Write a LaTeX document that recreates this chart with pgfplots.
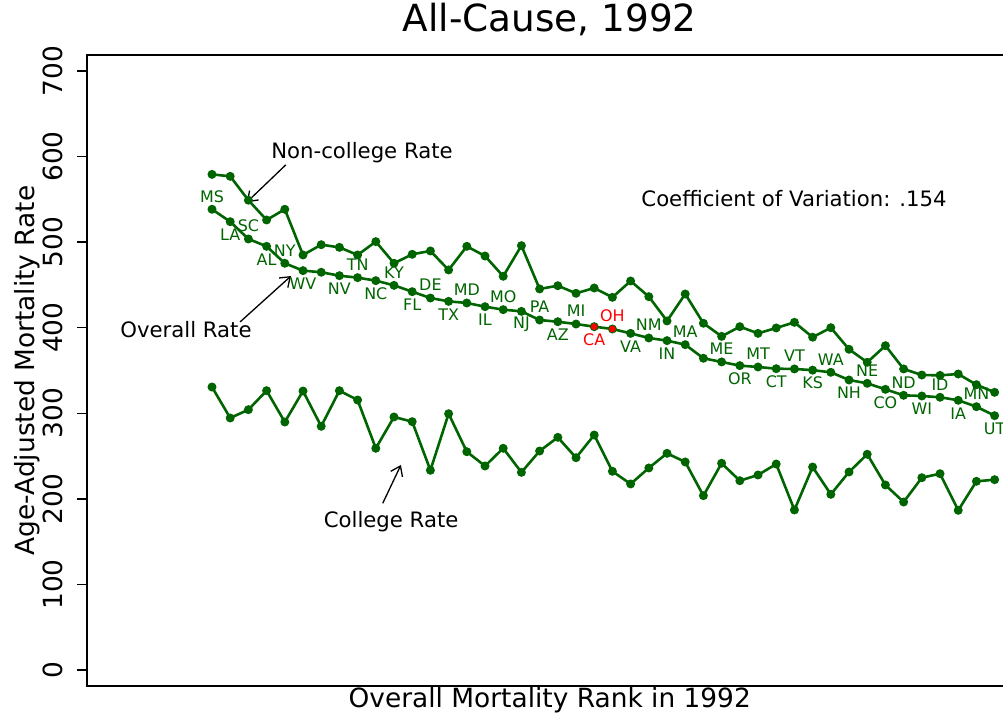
\documentclass[border=0pt]{standalone}
\usepackage{fontspec}
\setmainfont{DejaVu Sans}
\usepackage{pgfplots}
\usepackage{pgfplotstable}
\pgfplotsset{compat=1.18}
\usetikzlibrary{arrows.meta}
\definecolor{dkg}{RGB}{0,100,0}

\pgfplotstableread{
r all non col lab pos
1 538.4 579.2 330.7 MS 1
2 523.9 576.9 294.5 LA -1
3 503.7 549.0 304.2 SC 1
4 495.1 525.9 326.4 AL -1
5 475.3 538.4 289.8 NY 1
6 466.7 485.0 326.0 WV -1
7 464.8 497.0 284.8 {} 0
8 460.8 493.9 326.4 NV -1
9 458.5 485.0 315.5 TN 1
10 455.0 500.6 259.1 NC -1
11 449.5 475.3 295.7 KY 1
12 442.1 485.8 290.2 FL -1
13 434.7 489.7 233.4 DE 1
14 430.8 467.5 299.5 TX -1
15 428.9 495.1 255.1 MD 1
16 424.6 483.8 238.4 IL -1
17 421.1 460.1 259.1 MO 1
18 419.1 495.9 231.0 NJ -1
19 409.0 445.3 255.9 PA 1
20 407.0 449.1 271.9 AZ -1
21 404.3 440.2 248.1 MI 1
22 401.2 446.4 274.6 {} 0
23 398.5 435.5 232.2 {} 0
24 393.4 454.6 217.4 VA -1
25 388.0 436.3 236.1 NM 1
26 384.9 407.9 253.2 IN -1
27 380.2 439.4 243.1 MA 1
28 364.3 405.2 203.7 {} 0
29 360.0 389.9 241.6 ME 1
30 355.7 401.2 221.2 OR -1
31 354.1 393.4 227.9 MT 1
32 352.1 399.7 240.7 CT -1
33 351.8 406.3 187.0 VT 1
34 350.4 388.9 237.2 KS -1
35 347.9 400.0 205.3 WA 1
36 338.9 374.8 231.4 NH -1
37 335.0 359.6 252.1 NE 1
38 328.0 379.0 216.2 CO -1
39 321.0 351.8 196.3 ND 1
40 320.2 344.7 224.7 WI -1
41 318.7 344.3 229.4 ID 1
42 315.2 345.9 186.6 IA -1
43 307.7 333.4 220.5 MN 1
44 297.2 324.5 222.4 UT -1
}\data

\pgfplotstableread{
r all lab pos
22 401.2 CA -1
23 398.5 OH 1
}\reddata

\begin{document}
\begin{tikzpicture}
\begin{axis}[
  at={(87bp,30bp)}, anchor=south west,
  width=920bp, height=631bp, scale only axis,
  xmin=-5.868, xmax=44.68, ymin=-18.7, ymax=718.7,
  axis line style={line width=1.8bp, black},
  xtick=\empty,
  ytick={0,100,...,700},
  ytick pos=left,
  tick align=outside,
  major tick length=10bp,
  tick style={line width=1.5bp, black},
  /pgf/number format/assume math mode=true,
  yticklabel style={rotate=90, anchor=south, inner xsep=0pt, inner ysep=14bp,
    font=\fontsize{26.5}{26.5}\selectfont},
  title={All-Cause, 1992},
  title style={at={(axis description cs:0.503,1.0285)}, anchor=base,
    inner sep=0pt, font=\fontsize{37.5}{37.5}\selectfont},
  xlabel={Overall Mortality Rank in 1992},
  xlabel style={at={(axis description cs:0.503,-0.0344)}, anchor=base,
    inner sep=0pt, font=\fontsize{26.5}{26.5}\selectfont},
  ylabel={Age-Adjusted Mortality Rate},
  ylabel style={at={(axis description cs:-0.0655,0.5)}, anchor=center,
    inner sep=0pt, font=\fontsize{26.5}{26.5}\selectfont},
  clip=false,
]
% lines
\addplot[dkg, line width=2.6bp, mark=*, mark size=3.1bp] table[x=r, y=non] {\data};
\addplot[dkg, line width=2.6bp, mark=*, mark size=3.1bp] table[x=r, y=all] {\data};
\addplot[dkg, line width=2.6bp, mark=*, mark size=3.1bp] table[x=r, y=col] {\data};
\addplot[only marks, red, mark=*, mark size=3.1bp] table[x=r, y=all] {\reddata};
% state labels
\addplot[draw=none, mark=none,
  nodes near coords, point meta=explicit symbolic,
  visualization depends on={\thisrow{pos} \as \lpos},
  every node near coord/.style={anchor=center, yshift=\lpos*13bp, inner sep=0pt,
    text=dkg, font=\fontsize{16}{16}\selectfont}]
  table[x=r, y=all, meta=lab] {\data};
\addplot[draw=none, mark=none,
  nodes near coords, point meta=explicit symbolic,
  visualization depends on={\thisrow{pos} \as \lpos},
  every node near coord/.style={anchor=center, yshift=\lpos*13bp, inner sep=0pt,
    text=red, font=\fontsize{16}{16}\selectfont}]
  table[x=r, y=all, meta=lab] {\reddata};
% annotations
\node[font=\fontsize{21.3}{21.3}\selectfont] at (axis cs:9.24,604.2) {Non-college Rate};
\draw[line width=1.3bp, -{Straight Barb[length=9bp,width=13bp]}] (axis cs:5.05,590.2) -- (axis cs:2.91,546.6);
\node[font=\fontsize{21.3}{21.3}\selectfont] at (axis cs:-0.43,397.3) {Overall Rate};
\draw[line width=1.3bp, -{Straight Barb[length=9bp,width=13bp]}] (axis cs:2.54,406.7) -- (axis cs:5.34,460.4);
\node[font=\fontsize{21.3}{21.3}\selectfont] at (axis cs:10.84,173.0) {College Rate};
\draw[line width=1.3bp, -{Straight Barb[length=9bp,width=13bp]}] (axis cs:10.38,194.8) -- (axis cs:11.38,239.6);
\node[font=\fontsize{21.3}{21.3}\selectfont] at (axis cs:32.98,550.4) {Coefficient of Variation: .154};
\end{axis}
\pgfresetboundingbox
\path[use as bounding box] (0,0) rectangle (1003bp,716bp);
\end{tikzpicture}
\end{document}
